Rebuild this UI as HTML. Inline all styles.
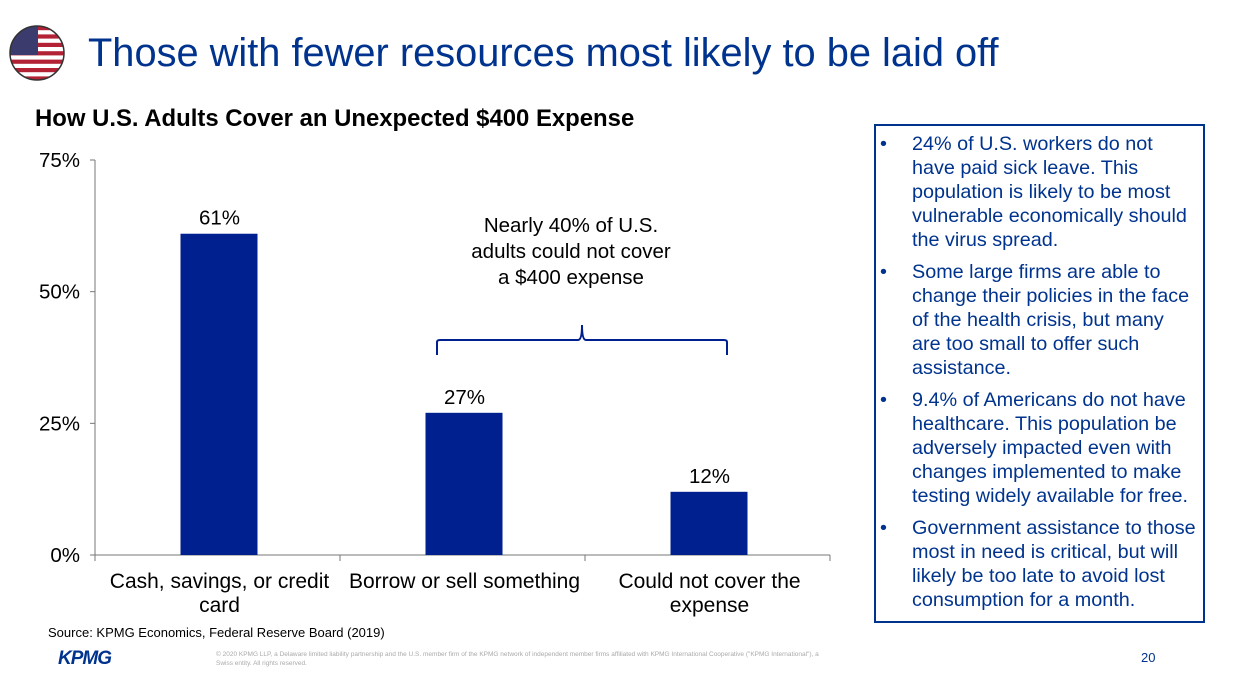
<!DOCTYPE html>
<html><head><meta charset="utf-8"><style>
body{margin:0;width:1233px;height:683px;background:#fff;font-family:"Liberation Sans",Arial,sans-serif;position:relative;overflow:hidden}
.abs{position:absolute}
.t{white-space:nowrap}
</style></head><body>
<svg class="abs" style="left:8px;top:24px" width="58" height="58">
<defs><clipPath id="c"><circle cx="29" cy="29" r="27"/></clipPath></defs>
<g clip-path="url(#c)">
<rect width="58" height="58" fill="#fff"/>
<g fill="#b22234"><rect y="2" width="58" height="4.2"/><rect y="10.4" width="58" height="4.2"/><rect y="18.8" width="58" height="4.2"/><rect y="27.2" width="58" height="4.2"/><rect y="35.6" width="58" height="4.2"/><rect y="44" width="58" height="4.2"/><rect y="52.4" width="58" height="4.2"/></g>
<rect width="30" height="31" fill="#3c3b6e"/>
</g><circle cx="29" cy="29" r="27" fill="none" stroke="#333" stroke-width="1.5"/></svg>
<div class="abs" style="left:88px;top:31px;font-size:39.8px;color:#00338d">Those with fewer resources most likely to be laid off</div>
<div class="abs" style="left:35px;top:105px;font-size:23.9px;font-weight:bold;color:#000">How U.S. Adults Cover an Unexpected $400 Expense</div>
<svg class="abs" style="left:0;top:0" width="860" height="620" id="chart"></svg>
<div class="abs t" style="left:420px;top:213px;width:302px;text-align:center;font-size:20.5px;line-height:26px">Nearly 40% of U.S.<br>adults could not cover<br>a $400 expense</div>
<div class="abs" style="left:48px;top:625px;font-size:13px">Source: KPMG Economics, Federal Reserve Board (2019)</div>
<div class="abs" style="left:58px;top:648px;font-size:19px;font-weight:bold;font-style:italic;color:#00338d;letter-spacing:-1px">KPMG</div>
<div class="abs" style="left:216px;top:650px;width:620px;font-size:6.5px;color:#aaa;line-height:9px">© 2020 KPMG LLP, a Delaware limited liability partnership and the U.S. member firm of the KPMG network of independent member firms affiliated with KPMG International Cooperative ("KPMG International"), a Swiss entity. All rights reserved.</div>
<div class="abs" style="left:1141px;top:650px;font-size:13px;color:#00338d">20</div>
<div class="abs" style="left:874px;top:124px;width:331px;height:499px;border:2px solid #00338d;box-sizing:border-box;color:#00338d;font-size:19.8px;line-height:24px;padding:6px 0 0 4px">
<div class="t" style="display:flex;margin-bottom:8px"><span style="width:32px">•</span><span>24% of U.S. workers do not<br>have paid sick leave. This<br>population is likely to be most<br>vulnerable economically should<br>the virus spread.</span></div>
<div class="t" style="display:flex;margin-bottom:8px"><span style="width:32px">•</span><span>Some large firms are able to<br>change their policies in the face<br>of the health crisis, but many<br>are too small to offer such<br>assistance.</span></div>
<div class="t" style="display:flex;margin-bottom:8px"><span style="width:32px">•</span><span>9.4% of Americans do not have<br>healthcare. This population be<br>adversely impacted even with<br>changes implemented to make<br>testing widely available for free.</span></div>
<div class="t" style="display:flex"><span style="width:32px">•</span><span>Government assistance to those<br>most in need is critical, but will<br>likely be too late to avoid lost<br>consumption for a month.</span></div>
</div>
<script>
const categories=[["Cash, savings, or credit","card"],["Borrow or sell something"],["Could not cover the","expense"]];
const values=[61,27,12];
const valueLabels=["61%","27%","12%"];
const ticks=[0,25,50,75];
const tickLabels=["0%","25%","50%","75%"];
const svg=document.getElementById('chart');const NS="http://www.w3.org/2000/svg";
const x0=95,x1=830,y0=555,y1=160,ymax=75;
const y=v=>y0-(v/ymax)*(y0-y1);
const bw=(x1-x0)/categories.length;
const cx=i=>x0+bw*(i+0.5);
function el(t,a){const e=document.createElementNS(NS,t);for(const k in a)e.setAttribute(k,a[k]);svg.appendChild(e);return e;}
let a=el('line',{x1:x0,x2:x0,y1:y1,y2:y0,stroke:'#777'});

a=el('line',{x1:x0,x2:x1,y1:y0,y2:y0,stroke:'#777'});

ticks.forEach((t,i)=>{el('line',{x1:x0-5,x2:x0,y1:y(t),y2:y(t),stroke:'#777'});
const tx=el('text',{x:x0-15,y:y(t)+7,'text-anchor':'end','font-size':20.5,'font-family':'Liberation Sans'});tx.textContent=tickLabels[i];
});
for(let i=0;i<=categories.length;i++)el('line',{x1:x0+bw*i,x2:x0+bw*i,y1:y0,y2:y0+6,stroke:'#777'});
values.forEach((v,i)=>{const r=el('rect',{x:cx(i)-37,y:y(v),width:77,height:y0-y(v),fill:'#00208f'});

const t=el('text',{x:cx(i)+2,y:y(v)-9,'text-anchor':'middle','font-size':20.5,'font-family':'Liberation Sans'});t.textContent=valueLabels[i];

categories[i].forEach((ln,j)=>{const c=el('text',{x:cx(i)+2,y:588+j*24,'text-anchor':'middle','font-size':21,'font-family':'Liberation Sans'});c.textContent=ln;
});});
const br=el('path',{d:'M437 355 V342 Q437 340 440 340 H578 Q582 340 582 325 Q582 340 586 340 H724 Q727 340 727 342 V355',fill:'none',stroke:'#00208f','stroke-width':2});

</script>
</body></html>
